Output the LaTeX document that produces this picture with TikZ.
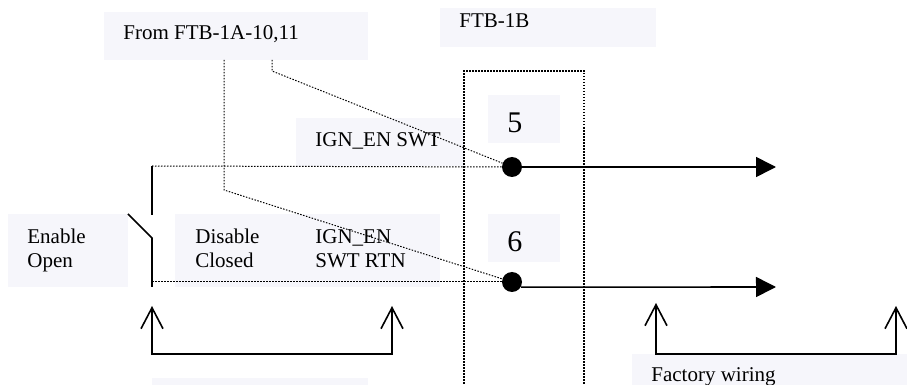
\documentclass[tikz,border=0pt]{standalone}
\usepackage{fontspec}
\setmainfont{Liberation Serif}
\usetikzlibrary{arrows.meta,fit}
\definecolor{boxfill}{HTML}{F6F6FB}
\tikzset{
    bgbox/.style={fill=boxfill, inner sep=0pt, outer sep=0pt},
    lbl/.style={anchor=base west, inner sep=0pt, font=\fontsize{10.5}{12}\selectfont},
    pinlbl/.style={anchor=base west, inner sep=0pt, font=\fontsize{15}{18}\selectfont},
    dotwire/.style={line width=0.5pt, dash pattern=on 0.75pt off 0.75pt},
    wire/.style={line width=0.8pt},
    sense/.style={line width=0.8pt, -{Triangle[length=10pt,width=10pt]}, shorten >=0pt},
    openarrow/.style={line width=0.8pt, {Straight Barb[length=10.5pt,width=11pt]}-{Straight Barb[length=10.5pt,width=11pt]}},
    pindot/.style={circle, fill=black, inner sep=0pt, minimum size=10pt}
}
\begin{document}
\begin{tikzpicture}[x=0.5pt,y=-0.5pt]
    \useasboundingbox (0,0) rectangle (907,385);
    \clip (0,0) rectangle (907,385);

    % Fondos de las etiquetas
    \node[bgbox, fit={(104,12) (368,60)}] (frombox) {};
    \node[bgbox, fit={(440,8) (656,47)}] (ftbbox) {};
    \node[bgbox, fit={(296,118) (464,166)}] (swtbox) {};
    \node[bgbox, fit={(488,95) (560,143)}] (fivebox) {};
    \node[bgbox, fit={(488,214) (560,262)}] (sixbox) {};
    \node[bgbox, fit={(8,214) (128,287)}] (enablebox) {};
    \node[bgbox, fit={(175,214) (440,287)}] (disablebox) {};
    \node[bgbox, fit={(152,378) (368,390)}] (lowbox) {};
    \node[bgbox, fit={(632,354) (912,390)}] (factorybox) {};

    % Textos
    \node[lbl] (fromlbl) at (123,40) {From FTB-1A-10,11};
    \node[lbl] (ftblbl) at (459,28) {FTB-1B};
    \node[lbl] (swtlbl) at (315,147) {IGN\_EN SWT};
    \node[pinlbl] (fivelbl) at (507,133) {5};
    \node[pinlbl] (sixlbl) at (507,252) {6};
    \node[lbl] (enablelbl) at (27,244) {Enable};
    \node[lbl] (openlbl) at (27,268) {Open};
    \node[lbl] (disablelbl) at (195,244) {Disable};
    \node[lbl] (closedlbl) at (195,268) {Closed};
    \node[lbl] (ignlbl) at (315,244) {IGN\_EN};
    \node[lbl] (rtnlbl) at (315,268) {SWT RTN};
    \node[lbl] (factorylbl) at (651,382) {Factory wiring};

    % Bornes
    \node[pindot] (dotfive) at (512,167) {};
    \node[pindot] (dotsix) at (512,282) {};
    \coordinate (tipfive) at (776,167);
    \coordinate (tipsix) at (776,287);
    \draw[sense] (dotfive) -- (tipfive);
    \draw[sense] (dotsix.-30) -- (tipsix);

    % Interruptor
    \coordinate (swtop) at (152,166);
    \coordinate (swhinge) at (152,238);
    \coordinate (swfree) at (128,214);
    \coordinate (swbot) at (152,287);
    \draw[wire] (swtop) -- (152,215);
    \draw[wire] (swfree) -- (swhinge) -- (swbot);
    \draw[dotwire] (swtop) -- (dotfive);
    \draw[dotwire] (152,282) -- (dotsix);

    % Cables punteados
    \coordinate (fromleft) at (224,60);
    \coordinate (fromright) at (272,60);
    \draw[dotwire] (fromleft) -- (224,190) -- (dotsix);
    \draw[dotwire] (fromright) -- (272,71) -- (dotfive);

    % Caja FTB-1B
    \draw[dotwire, line width=0.7pt] (464,390) -- (464,71) -- (584,71) -- (584,390);

    % Flechas dobles
    \coordinate (brakl) at (152,306);
    \coordinate (brakr) at (392,306);
    \coordinate (fackl) at (656,303);
    \coordinate (fackr) at (896,306);
    \draw[openarrow] (brakl) -- (152,354) -- (392,354) -- (brakr);
    \draw[openarrow] (fackl) -- (656,354) -- (896,354) -- (fackr);
\end{tikzpicture}
\end{document}
